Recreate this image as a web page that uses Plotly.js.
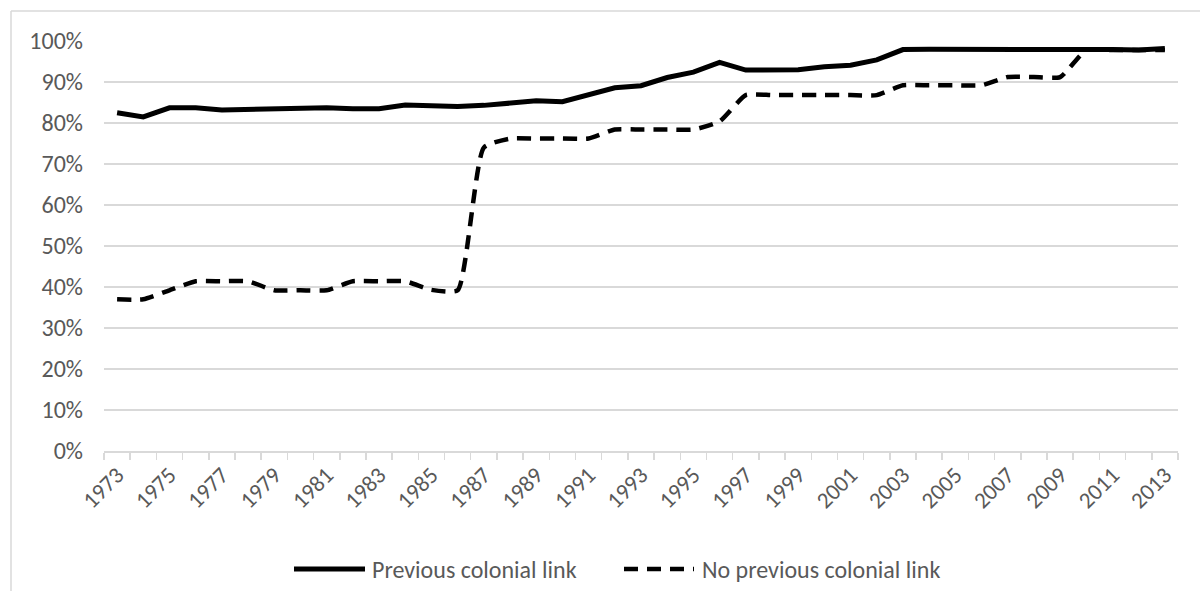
<!DOCTYPE html>
<html>
<head>
<meta charset="utf-8">
<script src="https://cdn.plot.ly/plotly-3.0.1.min.js"></script>
<style>
  html, body { margin: 0; padding: 0; background: #ffffff; }
  #chart { width: 1200px; height: 591px; }
</style>
</head>
<body>
<div id="chart"></div>
<script>
// ---- data ----
const years = [1973, 1974, 1975, 1976, 1977, 1978, 1979, 1980, 1981, 1982,
               1983, 1984, 1985, 1986, 1987, 1988, 1989, 1990, 1991, 1992,
               1993, 1994, 1995, 1996, 1997, 1998, 1999, 2000, 2001, 2002,
               2003, 2004, 2005, 2006, 2007, 2008, 2009, 2010, 2011, 2012, 2013];

// share (%) - previous colonial link
const prevColonial = [82.5, 81.5, 83.7, 83.7, 83.2, 83.4, 83.6, 83.8, 83.7, 83.5,
                      83.5, 84.4, 84.1, 84.0, 84.3, 84.9, 85.4, 85.2, 87.0, 88.6,
                      89.1, 91.1, 92.4, 94.8, 92.9, 93.0, 93.0, 93.7, 94.1, 95.4,
                      97.9, 98.0, 98.0, 98.1, 98.1, 98.1, 98.2, 98.2, 97.9, 97.8, 98.2];

// share (%) - no previous colonial link
const noPrevColonial = [37.0, 37.0, 39.2, 41.4, 41.4, 41.4, 39.2, 39.2, 39.2, 41.4,
                        41.4, 41.4, 39.3, 39.2, 74.0, 76.2, 76.2, 76.2, 76.2, 78.4,
                        78.4, 78.4, 78.4, 80.4, 86.8, 86.8, 86.8, 86.8, 86.8, 86.8,
                        89.2, 89.2, 89.2, 89.2, 91.2, 91.2, 91.2, 97.8, 97.8, 97.8, 97.8];

const tickYears = [1973, 1975, 1977, 1979, 1981, 1983, 1985, 1987, 1989, 1991, 1993,
                   1995, 1997, 1999, 2001, 2003, 2005, 2007, 2009, 2011, 2013];
const seriesNames = ["Previous colonial link", "No previous colonial link"];

// ---- layout helpers ----
const W = 1200, H = 591;
const M = { l: 104, r: 22, t: 41, b: 140 };
const PW = W - M.l - M.r, PH = H - M.t - M.b;
const xp = px => (px - M.l) / PW;
const yp = py => (M.t + PH - py) / PH;

const FONT = "Calibri, Carlito, Lato, 'Open Sans', sans-serif";
const TXT = "#595959";
const GRID = "#d9d9d9";

const traces = [
  {
    x: years, y: prevColonial.map(v => v / 100),
    name: seriesNames[0], type: "scatter", mode: "lines",
    line: { color: "#000000", width: 5 },
    hoverinfo: "x+y"
  },
  {
    x: years, y: noPrevColonial.map(v => v / 100),
    name: seriesNames[1], type: "scatter", mode: "lines",
    line: { color: "#000000", width: 4.5, dash: "14px,9px", shape: "spline", smoothing: 0.5 },
    hoverinfo: "x+y"
  }
];

const legY = yp(569);
const layout = {
  width: W, height: H,
  margin: M,
  paper_bgcolor: "#ffffff", plot_bgcolor: "#ffffff",
  showlegend: false,
  font: { family: FONT, color: TXT, size: 23 },
  xaxis: {
    type: "linear",
    range: [years[0] - 0.5, years[years.length - 1] + 0.5],
    tickmode: "array",
    tickvals: tickYears,
    ticktext: tickYears.map(String),
    tickangle: -45,
    ticks: "outside", ticklen: 0, tickcolor: GRID,
    minor: { ticks: "outside", ticklen: 7, tickcolor: GRID, tickwidth: 1.5,
             tick0: years[0] - 0.5, dtick: 1, showgrid: false },
    showgrid: false, zeroline: false,
    showline: true, linecolor: GRID, linewidth: 1.5,
    tickfont: { family: FONT, color: TXT, size: 23 },
    fixedrange: true
  },
  yaxis: {
    range: [0, 1],
    tickmode: "linear", tick0: 0, dtick: 0.1,
    tickformat: ".0%",
    showgrid: true, gridcolor: GRID, gridwidth: 1.5,
    zeroline: false, showline: false,
    ticks: "", ticklabelstandoff: 20,
    tickfont: { family: FONT, color: TXT, size: 24 },
    fixedrange: true
  },
  shapes: [
    // chart frame (top and left edges visible)
    { type: "line", xref: "paper", yref: "paper", x0: xp(11), x1: xp(1205), y0: yp(11), y1: yp(11),
      line: { color: GRID, width: 1.5 } },
    { type: "line", xref: "paper", yref: "paper", x0: xp(11), x1: xp(11), y0: yp(11), y1: yp(595),
      line: { color: GRID, width: 1.5 } },
    // legend symbols
    { type: "line", xref: "paper", yref: "paper", x0: xp(294), x1: xp(365), y0: legY, y1: legY,
      line: { color: "#000000", width: 5 } },
    { type: "line", xref: "paper", yref: "paper", x0: xp(624), x1: xp(694), y0: legY, y1: legY,
      line: { color: "#000000", width: 4.5, dash: "14px,9px" } }
  ],
  annotations: [
    { xref: "paper", yref: "paper", x: xp(370), y: legY, xanchor: "left", yanchor: "middle",
      text: seriesNames[0], showarrow: false, font: { family: FONT, size: 24, color: TXT } },
    { xref: "paper", yref: "paper", x: xp(700), y: legY, xanchor: "left", yanchor: "middle",
      text: seriesNames[1], showarrow: false, font: { family: FONT, size: 24, color: TXT } }
  ]
};

Plotly.newPlot("chart", traces, layout, { displayModeBar: false, staticPlot: true });
</script>
</body>
</html>
